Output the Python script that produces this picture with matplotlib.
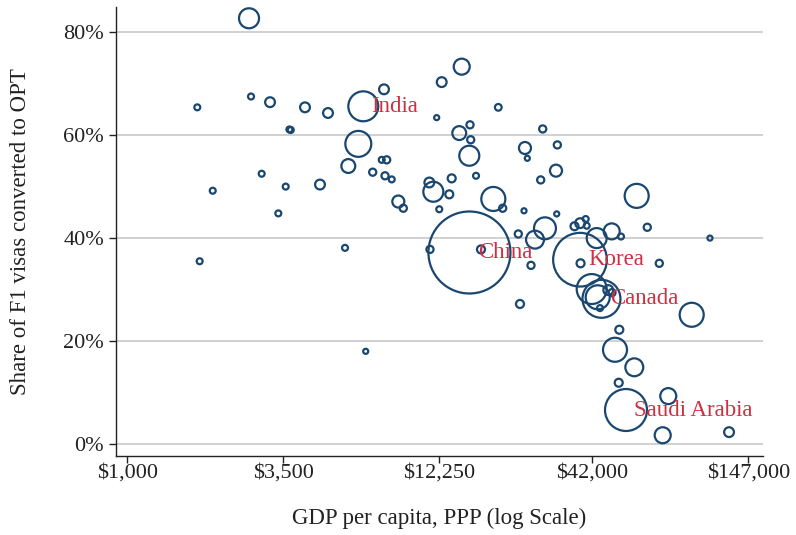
import numpy as np
import matplotlib.pyplot as plt
from matplotlib.ticker import FixedLocator, FuncFormatter, NullLocator

# GDP per capita (PPP, US$), share of F1 visas converted to OPT (%), F1 students (thousands)
gdp = [2660, 1755, 2703, 3149, 4171, 5018, 3680, 3720, 6664, 6402,
       5908, 2945, 1987, 3572, 4705, 3366, 1789, 5753, 14700, 12515,
       7870, 12020, 19720, 15710, 14410, 15800, 15620, 28180, 24440, 24900,
       31700, 31360, 27730, 24250, 31540, 28700, 26490, 23160, 18950, 20430,
       7727, 8042, 7187, 7935, 8375, 8830, 9192, 11330, 11700, 13560,
       13300, 16490, 12270, 15640, 11390, 17160, 6794, 23480, 25650, 59980,
       65310, 108100, 36390, 38070, 39810, 40130, 43490, 49070, 52870, 38030,
       38200, 71930, 41780, 43850, 45200, 47740, 49180, 44660, 93330, 52160,
       50390, 58840, 51910, 55050, 77310, 73930, 126000]
opt_share = [82.7, 65.4, 67.5, 66.4, 65.4, 64.3, 61.1, 61.0, 65.6, 58.3,
             54.0, 52.5, 49.2, 50.0, 50.4, 44.8, 35.5, 38.1, 73.3, 70.3,
             68.9, 63.4, 65.4, 62.0, 60.4, 59.1, 56.0, 61.2, 57.5, 55.5,
             58.1, 53.1, 51.3, 45.3, 44.7, 41.9, 39.7, 40.8, 47.6, 45.8,
             55.2, 55.2, 52.8, 52.1, 51.4, 47.1, 45.8, 50.8, 49.0, 51.6,
             48.5, 52.1, 45.6, 37.2, 37.8, 37.8, 18.0, 27.2, 34.7, 48.2,
             42.1, 40.0, 42.3, 42.9, 43.7, 42.4, 40.0, 41.3, 40.3, 35.8,
             35.1, 35.1, 30.1, 28.5, 28.2, 29.9, 29.4, 26.4, 25.1, 22.2,
             18.3, 14.9, 11.9, 6.6, 9.3, 1.7, 2.3]
students = [25, 2.2, 2.2, 6, 6, 6, 2.2, 2.2, 56, 42,
            12, 2.2, 2.2, 2.2, 6, 2.2, 2.2, 2.2, 16, 6,
            6, 1.6, 2.8, 3.2, 12, 3.2, 25, 3.2, 9, 1.6,
            3.2, 9, 3.2, 1.6, 1.6, 30, 20, 3.2, 36, 3.2,
            2.2, 3.2, 3.2, 3.2, 2.2, 9, 3.2, 6, 25, 4,
            4, 2.2, 2.2, 420, 3.2, 4, 1.6, 4, 3.2, 36,
            3.2, 1.6, 4, 6, 2.2, 2.2, 25, 16, 2.2, 180,
            4, 3.2, 56, 36, 90, 6, 3.2, 2.2, 36, 4,
            36, 20, 4, 110, 16, 16, 6]

labels = ["India", "China", "Korea", "Canada", "Saudi Arabia"]
label_gdp = [6664, 15640, 38030, 45200, 55050]
label_share = [65.6, 37.2, 35.8, 28.2, 6.6]

xticks = [1000, 3500, 12250, 42000, 147000]
yticks = [0, 20, 40, 60, 80]

navy = "#1a476f"
red = "#cf2f43"
plt.rcParams['font.family'] = ['Liberation Serif', 'DejaVu Serif']

fig = plt.figure(figsize=(7.96, 5.35), dpi=100)
ax = fig.add_axes([0.1457, 0.1477, 0.8128, 0.8393])

sizes = np.array(students) * 8.3
ax.scatter(gdp, opt_share, s=sizes, facecolors="none", edgecolors=navy,
           linewidths=1.6, zorder=3)

for name, gx, gy in zip(labels, label_gdp, label_share):
    ax.annotate(name, (gx, gy), xytext=(6, 0), textcoords="offset points",
                ha="left", va="center", color=red, fontsize=16.5, zorder=4)

ax.set_xscale("log")
ax.set_xlim(913, 165500)
ax.set_ylim(-2.33, 84.9)
ax.xaxis.set_major_locator(FixedLocator(xticks))
ax.xaxis.set_minor_locator(NullLocator())
ax.xaxis.set_major_formatter(FuncFormatter(lambda v, p: f"${v:,.0f}"))
ax.yaxis.set_major_locator(FixedLocator(yticks))
ax.yaxis.set_major_formatter(FuncFormatter(lambda v, p: f"{v:.0f}%"))

ax.grid(axis="y", color="#c8c8c8", linewidth=1.2, zorder=0)
ax.set_axisbelow(True)
for side in ["top", "right"]:
    ax.spines[side].set_visible(False)
for side in ["left", "bottom"]:
    ax.spines[side].set_color("#222222")
    ax.spines[side].set_linewidth(1.0)
ax.tick_params(axis="both", direction="out", length=5, width=1.0,
               color="#222222", labelsize=16, labelcolor="#222222")
ax.tick_params(axis="x", pad=0.5)

ax.set_xlabel("GDP per capita, PPP (log Scale)", fontsize=16.5,
              color="#222222", labelpad=18)
ax.set_ylabel("Share of F1 visas converted to OPT", fontsize=16.5,
              color="#222222", labelpad=23)

fig.savefig("out.png", dpi=100)
